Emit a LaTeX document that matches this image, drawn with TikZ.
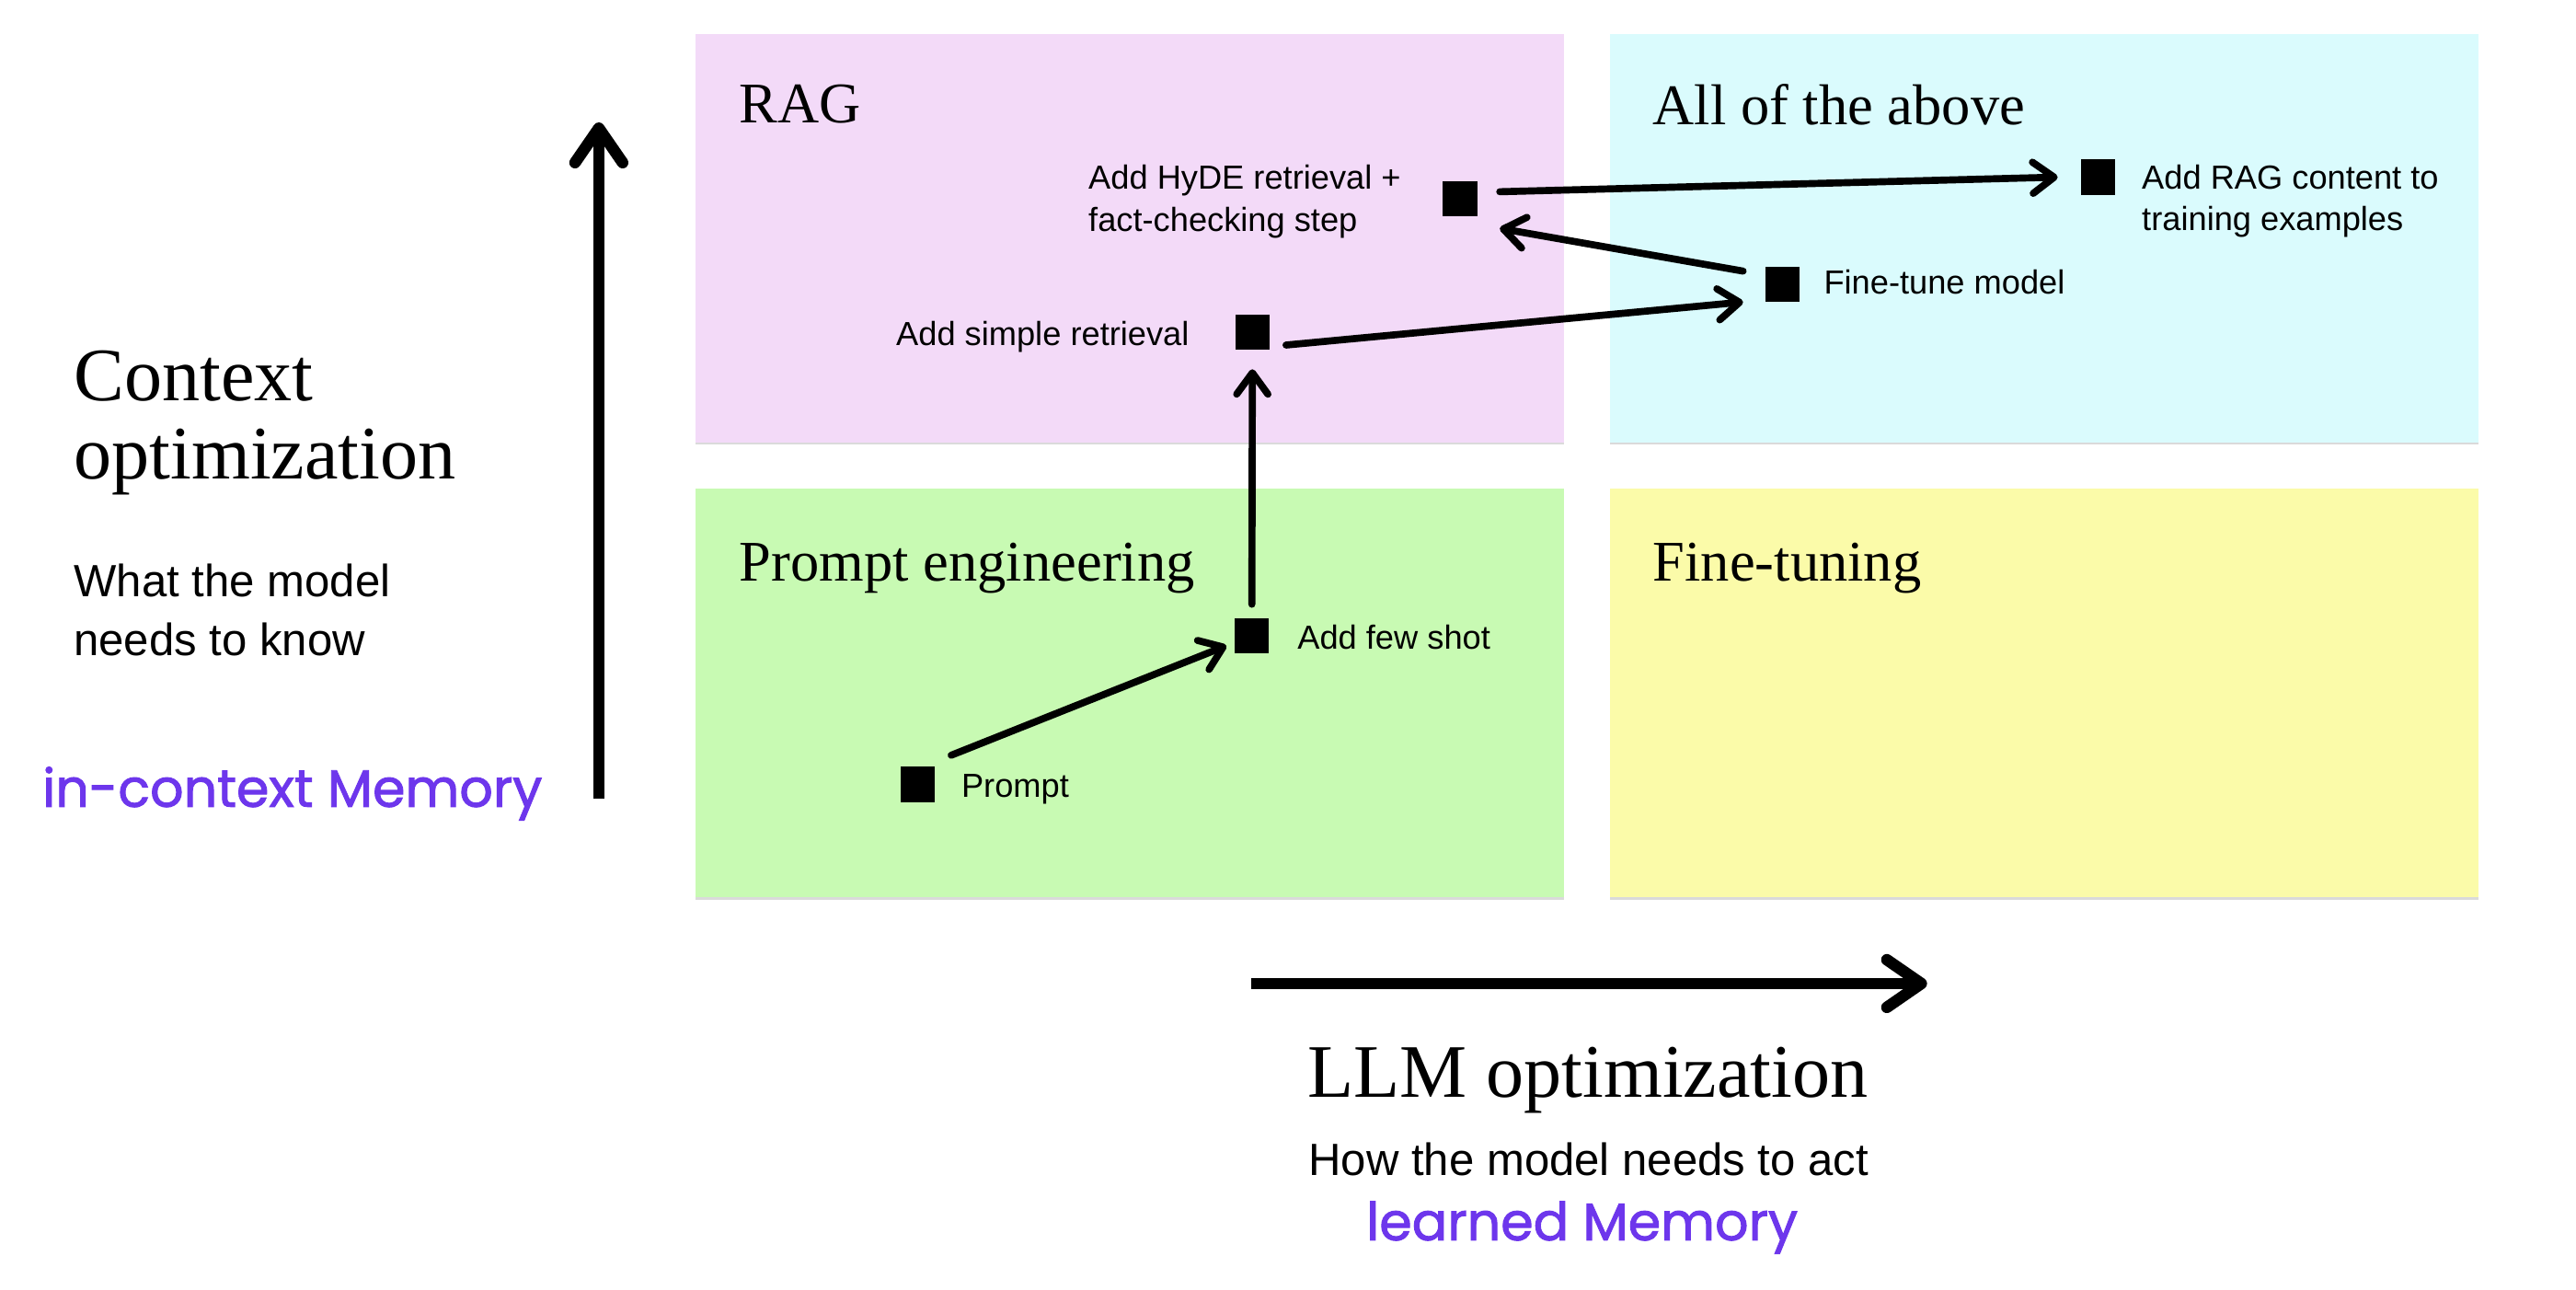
\documentclass[tikz,border=0pt]{standalone}
\usepackage{fontspec}
\setmainfont{Liberation Serif}
\setsansfont{Liberation Sans}
\newfontfamily\memfont[FakeBold=1.6]{Poppins}
\usetikzlibrary{arrows.meta}
\definecolor{ragpink}{HTML}{F3DAF8}
\definecolor{allcyan}{HTML}{DAFBFD}
\definecolor{promptgreen}{HTML}{C8FAB3}
\definecolor{ftyellow}{HTML}{FBFBA9}
\definecolor{memviolet}{HTML}{6D36EC}
\definecolor{edgegray}{HTML}{DADADA}
\begin{document}
\begin{tikzpicture}[x=1pt,y=-1pt,
  quad/.style={draw=none, minimum width=528.6pt, minimum height=249.4pt, anchor=north west, inner sep=0pt, outer sep=0pt},
  quadtitle/.style={font=\fontsize{35}{40}\selectfont, anchor=base west, inner sep=0pt},
  stepsq/.style={fill=black, minimum width=21pt, minimum height=21.5pt, inner sep=0pt, outer sep=0pt},
  steplabel/.style={font=\sffamily\fontsize{20.3}{26}\selectfont, inner sep=0pt},
  conn/.style={line width=4.3pt, line cap=round, -{Straight Barb[length=13pt,width=19pt,round]}},
  axisarrow/.style={line width=7pt, -{Straight Barb[length=21pt,width=29pt,round]}},
  bigserif/.style={font=\fontsize{46}{47.5}\selectfont, inner sep=0pt},
  subsans/.style={font=\sffamily\fontsize{27.5}{36}\selectfont, inner sep=0pt},
  memtext/.style={font=\memfont\fontsize{32}{36}\selectfont, text=memviolet, inner sep=0pt},
]
\useasboundingbox (0,0) rectangle (1568,785);
\fill[white] (0,0) rectangle (1568,785);

% quadrants
\node[quad, fill=ragpink] (ragq) at (423.4,20.5) {};
\node[quad, fill=allcyan] (allq) at (980,20.5) {};
\node[quad, fill=promptgreen] (promptq) at (423.4,297.4) {};
\node[quad, fill=ftyellow] (ftq) at (980,297.4) {};
\foreach \q in {ragq,allq,promptq,ftq}
  \draw[edgegray, line width=1.2pt] (\q.south west) -- (\q.south east);

% quadrant titles
\node[quadtitle] (ragt) at (450,74.6) {RAG};
\node[quadtitle] (allt) at (1006,75.6) {All of the above};
\node[quadtitle] (promptt) at (450,353.7) {Prompt engineering};
\node[quadtitle] (ftt) at (1006,353.7) {Fine-tuning};

% steps
\node[stepsq] (hyde) at (888.6,120.8) {};
\node[stepsq] (simple) at (762.3,202) {};
\node[stepsq] (fewshot) at (762,387) {};
\node[stepsq] (prompt) at (558.5,477.4) {};
\node[stepsq] (finetune) at (1085,173) {};
\node[stepsq] (ragcontent) at (1277,107.8) {};

% step labels
\node[steplabel, anchor=base west] (hydeA) at (662.4,114.8) {Add HyDE retrieval +};
\node[steplabel, anchor=base west] (hydeB) at (662.4,141) {fact-checking step};
\node[steplabel, anchor=base east] (simplel) at (724,210) {Add simple retrieval};
\node[steplabel, anchor=base west] (fewshotl) at (789.6,394.8) {Add few shot};
\node[steplabel, anchor=base west] (promptl) at (585,485.3) {Prompt};
\node[steplabel, anchor=base west] (finetunel) at (1110,179) {Fine-tune model};
\node[steplabel, anchor=base west] (ragA) at (1303.6,114.8) {Add RAG content to};
\node[steplabel, anchor=base west] (ragB) at (1303.6,140) {training examples};

% left axis texts
\node[bigserif, anchor=base west] (ctxA) at (44.8,244) {Context};
\node[bigserif, anchor=base west] (ctxB) at (44.8,291.5) {optimization};
\node[subsans, anchor=base west] (whatA) at (44.8,363) {What the model};
\node[subsans, anchor=base west] (whatB) at (44.8,399) {needs to know};
\node[memtext, anchor=base west] (incontext) at (25.7,491) {in-context Memory};

% bottom axis texts
\node[bigserif, anchor=base] (llm) at (966.5,668) {LLM optimization};
\node[subsans, anchor=base] (howact) at (967,715.6) {How the model needs to act};
\node[memtext, anchor=base] (learned) at (963,754.8) {learned Memory};

% axes
\coordinate (vbot) at (364.5,486);
\coordinate (vtop) at (364.5,74.5);
\draw[axisarrow] (vbot) -- (vtop);
\coordinate (hleft) at (761.6,598.6);
\coordinate (hright) at (1173,598.6);
\draw[axisarrow] (hleft) -- (hright);

% connectors
\draw[conn] ([shift={(10,-7)}]prompt.north east) -- ([shift={(-5,6)}]fewshot.west);
\draw[conn] ([shift={(0,-8.5)}]fewshot.north) -- ([shift={(0,12)}]simple.south);
\draw[conn] ([shift={(10,8)}]simple.east) -- ([shift={(-13.5,10.8)}]finetune.west);
\draw[conn] ([shift={(-13.5,-8)}]finetune.west) -- ([shift={(13.8,18.2)}]hyde.east);
\draw[conn] ([shift={(13.8,-4.1)}]hyde.east) -- ([shift={(-14,0)}]ragcontent.west);
\end{tikzpicture}
\end{document}
